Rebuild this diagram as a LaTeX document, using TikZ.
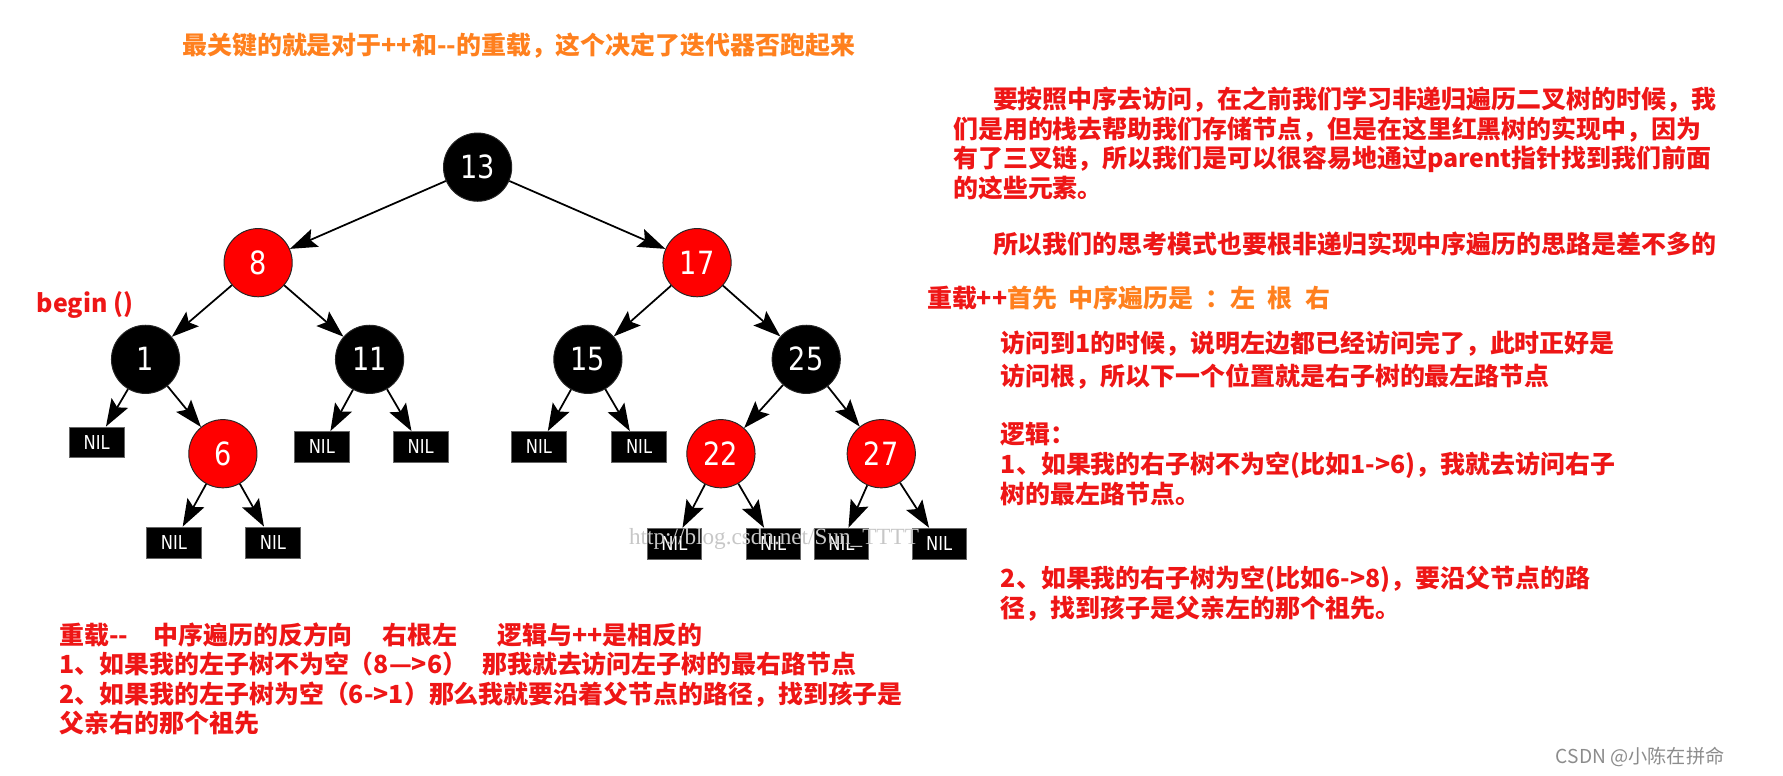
\documentclass[tikz,border=0pt]{standalone}
\usepackage{fontspec}
\usepackage{xcolor}
\usepackage{tikz}
\usetikzlibrary{arrows.meta,positioning}
\newfontfamily\cjkfont{Noto Sans CJK SC}
\newfontfamily\keyfont{DejaVu Sans}[FakeStretch=0.85]
\newfontfamily\markfont{Liberation Serif}
\definecolor{notered}{RGB}{238,22,22}
\definecolor{noteorange}{RGB}{255,128,30}
\definecolor{rbred}{RGB}{255,0,0}

\begin{document}
\begin{tikzpicture}[
  x=0.25mm, y=-0.25mm,
  >={Stealth[length=6mm,width=4.2mm,inset=1.1mm]},
  blacknode/.style={circle, draw=black!85, line width=0.6pt, fill=black,
                    minimum size=15mm, inner sep=0, text=white,
                    font=\keyfont\fontsize{20}{20}\selectfont},
  rednode/.style={blacknode, fill=rbred},
  nilbox/.style={rectangle, draw=black!60, line width=0.4pt, fill=black,
                 minimum width=12mm, minimum height=6.8mm, inner sep=0,
                 text=white, font=\keyfont\fontsize{12}{12}\selectfont},
  link/.style={->, line width=1.1pt},
  note/.style={anchor=west, inner sep=0, align=left, text=notered,
               font=\cjkfont\bfseries\fontsize{15.6}{18.5}\selectfont},
  hint/.style={note, text=noteorange}
]
\useasboundingbox (0,0) rectangle (1568,682);

% tree
\node[blacknode] (n13) at (420,147) {13};
\node[rednode]   (n8)  at (227,231) {8};
\node[rednode]   (n17) at (613,231) {17};
\node[blacknode] (n1)  at (128,316) {1};
\node[blacknode] (n11) at (325,316) {11};
\node[blacknode] (n15) at (517,316) {15};
\node[blacknode] (n25) at (709,316) {25};
\node[rednode]   (n6)  at (196,399) {6};
\node[rednode]   (n22) at (634,399) {22};
\node[rednode]   (n27) at (775,399) {27};

\node[nilbox] (nilA) at (85,389)  {NIL};
\node[nilbox] (nilB) at (283,393) {NIL};
\node[nilbox] (nilC) at (370,393) {NIL};
\node[nilbox] (nilD) at (474,393) {NIL};
\node[nilbox] (nilE) at (562,393) {NIL};
\node[nilbox] (nilF) at (153,477) {NIL};
\node[nilbox] (nilG) at (240,477) {NIL};
\node[nilbox] (nilH) at (593,478) {NIL};
\node[nilbox] (nilI) at (680,478) {NIL};
\node[nilbox] (nilJ) at (740,478) {NIL};
\node[nilbox] (nilK) at (826,478) {NIL};

\draw[link] (n13) -- (n8);
\draw[link] (n13) -- (n17);
\draw[link] (n8) -- (n1);
\draw[link] (n8) -- (n11);
\draw[link] (n17) -- (n15);
\draw[link] (n17) -- (n25);
\draw[link] (n1) -- (nilA);
\draw[link] (n1) -- (n6);
\draw[link] (n11) -- (nilB);
\draw[link] (n11) -- (nilC);
\draw[link] (n15) -- (nilD);
\draw[link] (n15) -- (nilE);
\draw[link] (n25) -- (n22);
\draw[link] (n25) -- (n27);
\draw[link] (n6) -- (nilF);
\draw[link] (n6) -- (nilG);
\draw[link] (n22) -- (nilH);
\draw[link] (n22) -- (nilI);
\draw[link] (n27) -- (nilJ);
\draw[link] (n27) -- (nilK);

% watermarks
\node[anchor=west, inner sep=0, text=black!22, font=\markfont\fontsize{14.5}{15}\selectfont]
  (blogmark) at (553,474) {http://blog.csdn.net/Sun\_TTTT};
\node[anchor=west, inner sep=0, text=black!45, font=\cjkfont\fontsize{12}{13}\selectfont]
  (csdnmark) at (1368,666) {CSDN @小陈在拼命};

% notes
\node[hint] (title) at (160,40) {最关键的就是对于++和--的重载，这个决定了迭代器否跑起来};
\node[note] (beginlbl) at (32,268) {begin ()};

\node[note] (inorder) at (838,126)
  {\hspace*{8.75mm}要按照中序去访问，在之前我们学习非递归遍历二叉树的时候，我\\
   们是用的栈去帮助我们存储节点，但是在这里红黑树的实现中，因为\\
   有了三叉链，所以我们是可以很容易地通过parent指针找到我们前面\\
   的这些元素。};
\node[note] (sameidea) at (873,215) {所以我们的思考模式也要根非递归实现中序遍历的思路是差不多的};

\node[note] (plusplus) at (815,262) {重载++\textcolor{noteorange}{首先\hspace{.45em}中序遍历是\hspace{.5em}：左\hspace{.5em}根\hspace{.5em}右}};
\node[note, font=\cjkfont\bfseries\fontsize{15.6}{20.6}\selectfont] (visitone) at (880,316.5)
  {访问到1的时候，说明左边都已经访问完了，此时正好是\\
   访问根，所以下一个位置就是右子树的最左路节点};
\node[note] (logic) at (880,408)
  {逻辑：\\
   1、如果我的右子树不为空(比如1->6)，我就去访问右子\\
   树的最左路节点。};
\node[note] (caseright) at (880,522)
  {2、如果我的右子树为空(比如6->8)，要沿父节点的路\\
   径，找到孩子是父亲左的那个祖先。};

\node[note] (minusminus) at (52,597)
  {重载--\hspace{1em}中序遍历的反方向\hspace{1.2em}右根左\hspace{1.6em}逻辑与++是相反的\\
   1、如果我的左子树不为空（8—>6）\hspace{.6em}那我就去访问左子树的最右路节点\\
   2、如果我的左子树为空（6->1）那么我就要沿着父节点的路径，找到孩子是\\
   父亲右的那个祖先};
\end{tikzpicture}
\end{document}
